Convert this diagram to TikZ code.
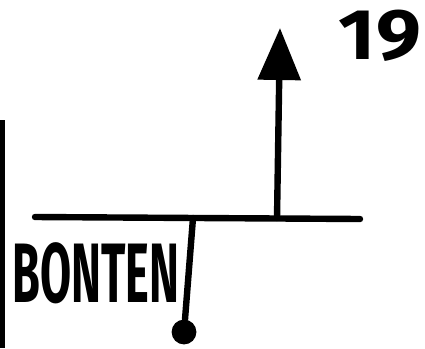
\documentclass[tikz,border=0pt]{standalone}
\usepackage{fontspec}
\setmainfont{Fira Sans}
\usetikzlibrary{arrows.meta}

\begin{document}
\begin{tikzpicture}[
  x=0.25mm,y=-0.25mm,
  ink/.style={line width=1.6mm,draw=black,line cap=round},
  arr/.style={ink,-{Triangle[length=13mm,width=10.5mm]}},
  blob/.style={circle,fill=black,inner sep=0pt,minimum size=6.2mm},
  hand/.style={font=\bfseries\fontsize{30}{30}\selectfont,inner sep=0pt}
]
\useasboundingbox (0,0) rectangle (425,348);
% edge of the sheet
\fill[black] (0,120) rectangle (5,348);
% points on the line
\coordinate (left) at (35,217);
\coordinate (right) at (360,219);
\coordinate (stemtop) at (193,218);
\coordinate (foot) at (277,218);
\coordinate (tip) at (280,28);
\node[blob] (end) at (184,332) {};
\draw[ink] (left) -- (right);
\draw[ink] (stemtop) -- (end);
\draw[arr] (foot) -- (tip);
% labels
\node[hand,anchor=west] (bonten) at (12,273) {\scalebox{1.07}[2]{BONTEN}};
\node[hand] (num) at (380,36) {\scalebox{1.9}[1.7]{19}};
\end{tikzpicture}
\end{document}
